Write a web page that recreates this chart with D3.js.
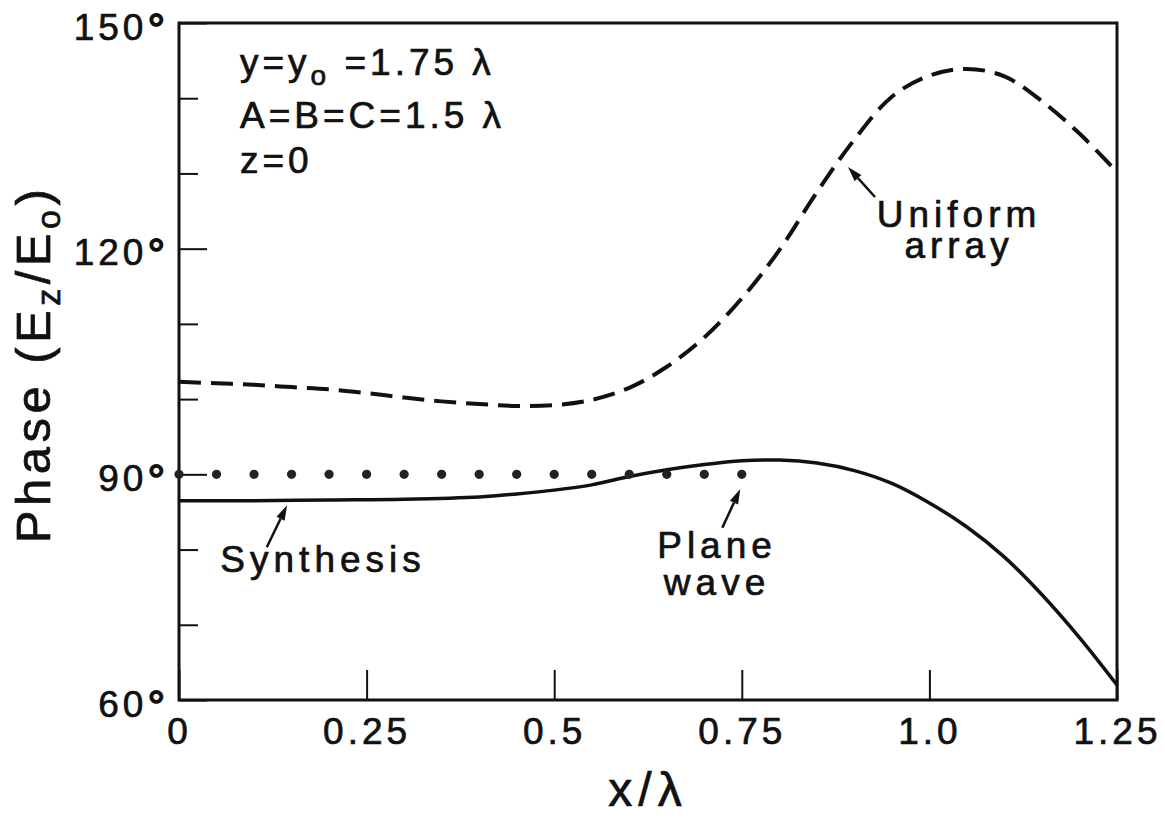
<!DOCTYPE html>
<html>
<head>
<meta charset="utf-8">
<script src="https://cdn.jsdelivr.net/npm/d3@7"></script>
<style>
  html, body { margin: 0; padding: 0; background: #fff; }
  svg { display: block; }
  text { font-family: "Liberation Sans", Arial, Helvetica, sans-serif; fill: #111; stroke: #111; stroke-width: 0.7px; }
</style>
</head>
<body>
<svg id="chart" width="1165" height="821"></svg>
<script>
// ---- data ----
const xTicks = [0, 0.25, 0.5, 0.75, 1.0, 1.25];
const xTickLabels = ["0", "0.25", "0.5", "0.75", "1.0", "1.25"];
const yMajorTicks = [60, 90, 120, 150];
const yTickLabels = ["60", "90", "120", "150"];
const yMinorTicks = [70, 80, 100, 110, 130, 140];

const synthesisX = [0, 0.1, 0.2, 0.3, 0.4, 0.45, 0.5, 0.55, 0.6, 0.65, 0.7, 0.75, 0.8, 0.85, 0.9, 0.95, 1.0, 1.05, 1.1, 1.15, 1.2, 1.25];
const synthesisY = [86.5, 86.5, 86.6, 86.7, 87.0, 87.4, 87.9, 88.6, 89.7, 90.6, 91.3, 91.8, 91.9, 91.5, 90.5, 88.8, 86.2, 83.0, 79.0, 74.0, 68.3, 62.0];

const uniformX = [0, 0.05, 0.1, 0.15, 0.2, 0.25, 0.3, 0.35, 0.4, 0.45, 0.5, 0.55, 0.6, 0.65, 0.7, 0.75, 0.8, 0.85, 0.9, 0.95, 1.0, 1.05, 1.1, 1.15, 1.2, 1.25];
const uniformY = [102.3, 102.1, 101.9, 101.6, 101.3, 100.8, 100.2, 99.7, 99.35, 99.1, 99.2, 99.9, 101.5, 104.3, 108.2, 113.4, 119.8, 127.5, 134.5, 140.2, 143.0, 143.9, 142.9, 139.6, 135.3, 130.2];

const planeWaveX = [0, 0.05, 0.1, 0.15, 0.2, 0.25, 0.3, 0.35, 0.4, 0.45, 0.5, 0.55, 0.6, 0.65, 0.7, 0.75];
const planeWaveY = [90, 90, 90, 90, 90, 90, 90, 90, 90, 90, 90, 90, 90, 90, 90, 90];

// annotation anchors in data units (multi-line labels: lines + line gap in px)
const labelTexts = [
  {lines: ["Synthesis"], x: 0.192, y: 77.0, gap: 0},
  {lines: ["Plane", "wave"], x: 0.717, y: 78.9, gap: 37},
  {lines: ["Uniform", "array"], x: 1.0395, y: 122.9, gap: 31}
];
const arrows = [
  {x1: 0.117, y1: 80.3, x2: 0.144, y2: 85.9},
  {x1: 0.724, y1: 82.9, x2: 0.748, y2: 88.05},
  {x1: 0.9275, y1: 126.87, x2: 0.8915, y2: 130.86}
];

// ---- drawing ----
const svg = d3.select("#chart");
const x = d3.scaleLinear().domain([0, 1.25]).range([179, 1117]);
const y = d3.scaleLinear().domain([60, 150]).range([700, 23]);

// frame
svg.append("rect")
  .attr("x", x(0)).attr("y", y(150))
  .attr("width", x(1.25) - x(0)).attr("height", y(60) - y(150))
  .attr("fill", "none").attr("stroke", "#111").attr("stroke-width", 3);

// y axis minor ticks
const yMinor = svg.append("g").attr("transform", `translate(${x(0)},0)`)
  .call(d3.axisLeft(y).tickValues(yMinorTicks).tickSize(-19).tickSizeOuter(0).tickFormat(""));
yMinor.select(".domain").remove();
yMinor.selectAll("line").attr("stroke", "#111").attr("stroke-width", 2);

// y axis major ticks
const yMajor = svg.append("g").attr("transform", `translate(${x(0)},0)`)
  .call(d3.axisLeft(y).tickValues(yMajorTicks).tickSize(-28).tickSizeOuter(0).tickPadding(10)
    .tickFormat((d, i) => yTickLabels[i]));
yMajor.select(".domain").remove();
yMajor.selectAll("line").attr("stroke", "#111").attr("stroke-width", 2);
yMajor.selectAll("text")
  .attr("font-size", 37).attr("letter-spacing", 4).attr("dy", "0.44em")
  .attr("font-family", '"Liberation Sans", Arial, sans-serif').attr("fill", "#111")
  .each(function() {
    const t = d3.select(this);
    t.append("tspan").attr("font-size", 44).attr("dy", 5).attr("stroke-width", 1.5).text("°");
  });

// x axis
const xAxis = svg.append("g").attr("transform", `translate(0,${y(60)})`)
  .call(d3.axisBottom(x).tickValues(xTicks).tickSize(-30).tickSizeOuter(0).tickPadding(18)
    .tickFormat((d, i) => xTickLabels[i]));
xAxis.select(".domain").remove();
xAxis.selectAll("line").attr("stroke", "#111").attr("stroke-width", 2);
xAxis.selectAll("text")
  .attr("font-size", 37).attr("letter-spacing", 4)
  .attr("font-family", '"Liberation Sans", Arial, sans-serif').attr("fill", "#111");

// curves
const synthesisData = synthesisX.map((d, i) => [d, synthesisY[i]]);
const uniformData = uniformX.map((d, i) => [d, uniformY[i]]);
const line = d3.line().x(d => x(d[0])).y(d => y(d[1])).curve(d3.curveCatmullRom.alpha(0.5));

svg.append("path").datum(uniformData).attr("d", line)
  .attr("fill", "none").attr("stroke", "#111").attr("stroke-width", 4)
  .attr("stroke-dasharray", "22,10");

svg.append("path").datum(synthesisData).attr("d", line)
  .attr("fill", "none").attr("stroke", "#111").attr("stroke-width", 3.5);

// plane wave dots
svg.append("g").selectAll("circle")
  .data(planeWaveX.map((d, i) => [d, planeWaveY[i]]))
  .join("circle")
  .attr("cx", d => x(d[0])).attr("cy", d => y(d[1])).attr("r", 4.6)
  .attr("fill", "#222");

// labels
svg.append("g").selectAll("text").data(labelTexts).join("text")
  .attr("x", d => x(d.x)).attr("y", d => y(d.y))
  .attr("text-anchor", "middle").attr("font-size", 37).attr("letter-spacing", 5)
  .each(function(d) {
    const t = d3.select(this);
    d.lines.forEach((s, i) => {
      t.append("tspan").attr("x", x(d.x)).attr("dy", i === 0 ? 0 : d.gap).text(s);
    });
  });

// arrows
const ag = svg.append("g");
arrows.forEach(a => {
  const x1 = x(a.x1), y1 = y(a.y1), x2 = x(a.x2), y2 = y(a.y2);
  const dx = x2 - x1, dy = y2 - y1, L = Math.hypot(dx, dy);
  const ux = dx / L, uy = dy / L, hl = 15, hw = 4.5;
  const bx = x2 - ux * hl, by = y2 - uy * hl;
  ag.append("line").attr("x1", x1).attr("y1", y1).attr("x2", bx).attr("y2", by)
    .attr("stroke", "#111").attr("stroke-width", 2.5);
  ag.append("path")
    .attr("d", `M${x2},${y2}L${bx - uy * hw},${by + ux * hw}L${bx + uy * hw},${by - ux * hw}Z`)
    .attr("fill", "#111");
});

// parameter annotation
const ann = svg.append("g").attr("font-size", 37).attr("letter-spacing", 4);
const l1 = ann.append("text").attr("x", x(0.0813)).attr("y", y(143.1));
l1.append("tspan").text("y=y");
l1.append("tspan").attr("font-size", 28).attr("dy", 10).text("o");
l1.append("tspan").attr("dy", -10).text(" =1.75 λ");
ann.append("text").attr("x", x(0.0813)).attr("y", y(136.0)).text("A=B=C=1.5 λ");
ann.append("text").attr("x", x(0.0813)).attr("y", y(130.1)).text("z=0");

// axis titles
const yl = svg.append("text")
  .attr("transform", "translate(50,364) rotate(-90)")
  .attr("text-anchor", "middle").attr("font-size", 49).attr("letter-spacing", 4.5);
yl.append("tspan").text("Phase (E");
yl.append("tspan").attr("font-size", 34).attr("dy", 10).text("z");
yl.append("tspan").attr("dy", -10).text("/E");
yl.append("tspan").attr("font-size", 34).attr("dy", 10).text("o");
yl.append("tspan").attr("dy", -10).text(")");

svg.append("text").attr("x", 648).attr("y", 806)
  .attr("text-anchor", "middle").attr("font-size", 48).attr("letter-spacing", 6)
  .text("x/λ");
</script>
</body>
</html>
